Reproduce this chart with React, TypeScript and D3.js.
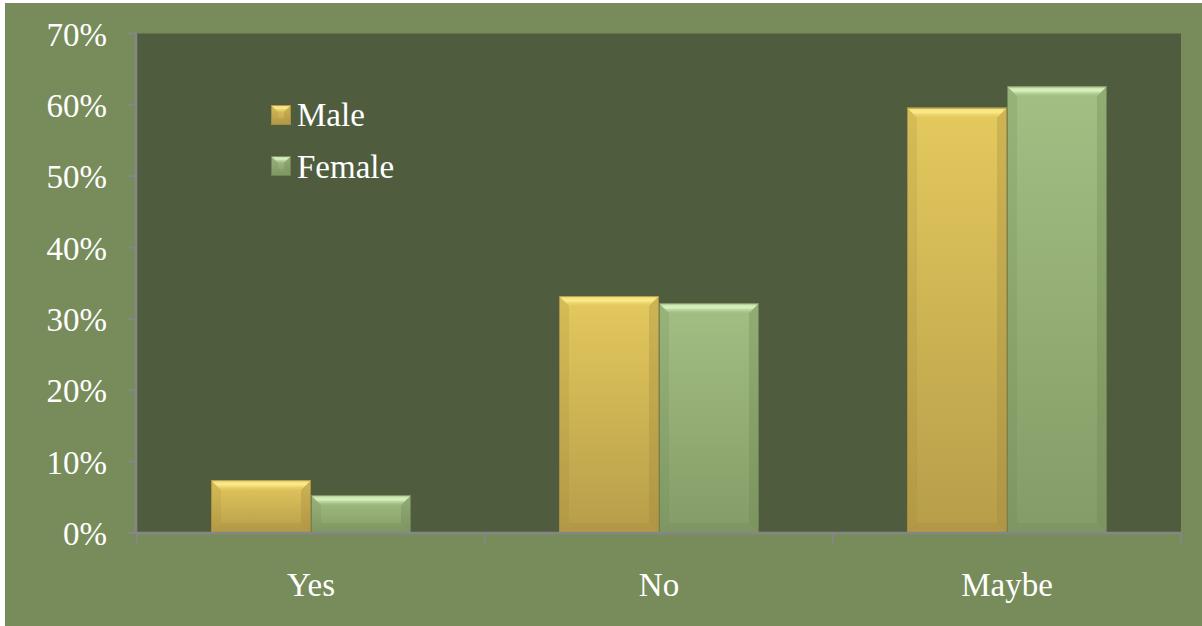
import React from "react";
import * as d3 from "d3";

const categories = ["Yes", "No", "Maybe"];
const seriesNames = ["Male", "Female"];
const maleValues = [0.074, 0.332, 0.596];
const femaleValues = [0.053, 0.322, 0.626];
const yTicks = [0, 0.1, 0.2, 0.3, 0.4, 0.5, 0.6, 0.7];

const W = 1202;
const H = 626;
const M = { left: 137, right: 21, top: 33.5, bottom: 93 };

const palette = {
  Male: { top: "#e4c95e", bottom: "#b79d49", bevel: "#fdec8c", side: "#c9ae50", edge: "#a08a3e", dark: "#9c843a" },
  Female: { top: "#a3bf84", bottom: "#849c66", bevel: "#dcf4c2", side: "#92ad75", edge: "#687d50", dark: "#6a8250" },
} as const;

function Bevel({ x, y, w, h, c, id, b = 10 }: any) {
  const bb = Math.min(b, h / 2, w / 2);
  return (
    <g>
      <rect x={x} y={y} width={w} height={h} fill={`url(#${id})`} />
      <polygon points={`${x},${y} ${x + w},${y} ${x + w - bb},${y + bb} ${x + bb},${y + bb}`} fill={`url(#${id}-bev)`} />
      <polygon points={`${x},${y} ${x + bb},${y + bb} ${x + bb},${y + h - bb} ${x},${y + h}`} fill={c.dark} opacity={0.18} />
      <polygon points={`${x + w},${y} ${x + w - bb},${y + bb} ${x + w - bb},${y + h - bb} ${x + w},${y + h}`} fill={c.dark} opacity={0.3} />
      <polygon points={`${x},${y + h} ${x + bb},${y + h - bb} ${x + w - bb},${y + h - bb} ${x + w},${y + h}`} fill={c.dark} opacity={0.2} />
      <rect x={x + 0.5} y={y + 0.5} width={w - 1} height={h - 1} fill="none" stroke={c.edge} strokeWidth={1} opacity={0.8} />
    </g>
  );
}

export default function App() {
  const x0 = d3.scaleBand().domain(categories).range([M.left, W - M.right]).paddingInner(0).paddingOuter(0);
  const groupW = 200;
  const x1 = d3.scaleBand().domain(seriesNames).range([0, groupW]).padding(0);
  const y = d3.scaleLinear().domain([0, 0.7]).range([H - M.bottom, M.top]);
  const fmt = d3.format(".0%");
  const font = "'Liberation Serif', 'Times New Roman', serif";
  const values: Record<string, number[]> = { Male: maleValues, Female: femaleValues };
  const axisColor = "#868686";
  const xEdges = [...categories.map((c) => x0(c)!), W - M.right];

  return (
    <div style={{ position: "absolute", left: 0, top: 0 }}>
      <svg width={W} height={H} style={{ display: "block" }}>
        <defs>
          {seriesNames.map((s) => {
            const c = (palette as any)[s];
            return (
              <React.Fragment key={s}>
                <linearGradient id={`g-${s}`} x1="0" y1="0" x2="0" y2="1">
                  <stop offset="0%" stopColor={c.top} />
                  <stop offset="100%" stopColor={c.bottom} />
                </linearGradient>
                <linearGradient id={`g-${s}-bev`} x1="0" y1="0" x2="0" y2="1">
                  <stop offset="0%" stopColor={c.bevel} stopOpacity={0.6} />
                  <stop offset="45%" stopColor={c.bevel} stopOpacity={0.95} />
                  <stop offset="100%" stopColor={c.top} stopOpacity={0.3} />
                </linearGradient>
              </React.Fragment>
            );
          })}
        </defs>
        <rect x={0} y={0} width={W} height={H} fill="#ffffff" />
        <rect x={5} y={3} width={W - 5} height={H - 3} fill="#778c5a" />
        <rect x={M.left} y={M.top} width={W - M.right - M.left} height={H - M.bottom - M.top} fill="#4f5d3e" />

        {categories.map((cat, i) => {
          const cx = x0(cat)! + x0.bandwidth() / 2 - groupW / 2;
          return seriesNames.map((s) => {
            const v = values[s][i];
            const bx = cx + x1(s)!;
            const by = y(v);
            const bh = y(0) - by;
            return <Bevel key={cat + s} x={bx} y={by} w={x1.bandwidth()} h={bh} c={(palette as any)[s]} id={`g-${s}`} />;
          });
        })}

        <line x1={M.left - 1} x2={M.left - 1} y1={M.top} y2={y(0)} stroke={axisColor} strokeWidth={2.5} />
        <line x1={M.left - 1} x2={W - M.right} y1={y(0)} y2={y(0)} stroke={axisColor} strokeWidth={2.5} />
        {yTicks.map((t) => (
          <g key={t}>
            <line x1={M.left - 10} x2={M.left - 1} y1={y(t)} y2={y(t)} stroke={axisColor} strokeWidth={2} />
            <text x={107} y={y(t) + 12} textAnchor="end" fill="#ffffff" fontFamily={font} fontSize={33}>
              {fmt(t)}
            </text>
          </g>
        ))}
        {xEdges.map((ex, i) => (
          <line key={i} x1={ex} x2={ex} y1={y(0)} y2={y(0) + 10} stroke={axisColor} strokeWidth={2} />
        ))}
        {categories.map((cat) => (
          <text key={cat} x={x0(cat)! + x0.bandwidth() / 2} y={596} textAnchor="middle" fill="#ffffff" fontFamily={font} fontSize={33}>
            {cat}
          </text>
        ))}

        {seriesNames.map((s, i) => (
          <g key={s}>
            <Bevel x={271} y={105 + i * 51} w={20} h={20} c={(palette as any)[s]} id={`g-${s}`} b={7} />
            <text x={297} y={126 + i * 52} fill="#ffffff" fontFamily={font} fontSize={33}>
              {s}
            </text>
          </g>
        ))}
      </svg>
    </div>
  );
}
